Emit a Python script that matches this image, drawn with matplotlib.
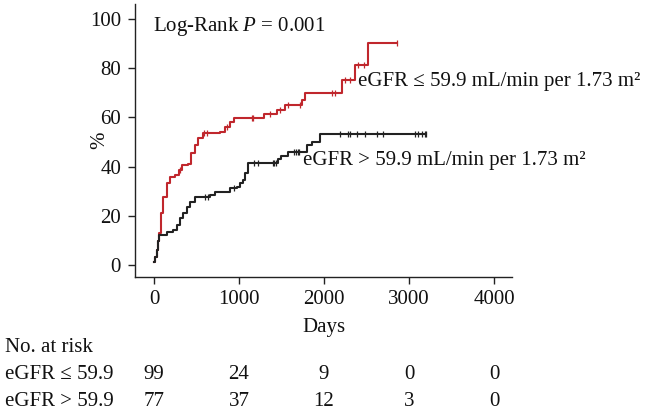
import numpy as np
import matplotlib
matplotlib.use("Agg")
import matplotlib.pyplot as plt

plt.rcParams['font.family'] = ['Liberation Serif', 'DejaVu Serif']
plt.rcParams['mathtext.fontset'] = 'custom'
plt.rcParams['mathtext.rm'] = 'Liberation Serif'
plt.rcParams['mathtext.it'] = 'Liberation Serif:italic'

# ---- data (cumulative incidence, %) ----
red_t = [0, 15, 30, 45, 60, 80, 110, 150, 190, 250, 290, 325, 400, 440, 480, 520, 580,
         780, 835, 895, 935, 1290, 1445, 1540, 1740, 1775, 2215, 2365, 2520]
red_v = [1.3, 3.5, 6, 10, 13, 21, 27.8, 33.2, 35.9, 36.6, 38.6, 40.6, 41.3, 45.4, 48.8, 51.5, 53.5,
         54.2, 56.2, 58.2, 59.6, 61.3, 63.1, 65.0, 67.1, 69.8, 75.2, 81.3, 90.3]
red_end = 2860
red_cens = [300, 590, 620, 860, 1150, 1170, 1365, 1480, 1580, 1718, 2090, 2130, 2250,
            2305, 2405, 2465, 2860]

blk_t = [0, 15, 30, 45, 55, 150, 227, 267, 306, 345, 384, 424, 482, 660, 718, 894, 973,
         1012, 1051, 1071, 1110, 1463, 1490, 1580, 1796, 1855, 1953]
blk_v = [1.3, 3.5, 6, 10, 12.2, 13.5, 14.2, 16.3, 19, 21, 23.7, 25.7, 27.8, 28.4, 29.8, 31.2, 31.8,
         33.2, 34.5, 37.3, 41.6, 43.0, 44.3, 46.0, 48.8, 50.1, 53.2]
blk_end = 3200
blk_cens = [600, 640, 940, 1180, 1220, 1396, 1416, 1435, 1651, 1671, 1690, 1710, 2188,
            2286, 2306, 2384, 2482, 2620, 2698, 3071, 3110, 3149, 3188, 3200]

x_ticks = [0, 1000, 2000, 3000, 4000]
y_ticks = [0, 20, 40, 60, 80, 100]
risk_labels = ["eGFR \u2264 59.9", "eGFR > 59.9"]
risk_red = [99, 24, 9, 0, 0]
risk_blk = [77, 37, 12, 3, 0]

RED = "#c0272d"
BLK = "#222222"
TXT = "#111111"
FS = 15

W, H = 663, 413
fig = plt.figure(figsize=(W / 100, H / 100), dpi=100)
ax = fig.add_axes([135 / W, 1 - 277 / H, (511.7 - 135) / W, (277 - 4) / H])


def step_at(ts, vs, x):
    i = np.searchsorted(ts, x, side='right') - 1
    return np.asarray(vs)[i]


for ts, vs, end, cens, c in [(red_t, red_v, red_end, red_cens, RED),
                             (blk_t, blk_v, blk_end, blk_cens, BLK)]:
    xs = list(ts) + [end]
    ys = list(vs) + [vs[-1]]
    ax.step(xs, ys, where='post', color=c, lw=1.5)
    cy = [step_at(ts, vs, x) for x in cens]
    ax.plot(cens, cy, ls='none', marker='|', ms=5, mew=0.9, color=c)

ax.set_xlim(-224, 4208)
ax.set_ylim(-4.8, 106.1)
ax.set_xticks(x_ticks)
ax.set_yticks(y_ticks)
ax.spines['top'].set_visible(False)
ax.spines['right'].set_visible(False)
for s in ['left', 'bottom']:
    ax.spines[s].set_linewidth(1.0)
    ax.spines[s].set_color('#222222')
ax.tick_params(direction='out', length=5, width=1.0, labelsize=FS, colors='#222222')
ax.tick_params(axis='x', pad=4)
ax.tick_params(axis='y', pad=5)
for lbl in ax.get_xticklabels() + ax.get_yticklabels():
    lbl.set_color(TXT)

ax.text(-8, 96.8, r"Log-Rank $P$ = 0.001", fontsize=FS, va='center', ha='left', color=TXT)
ax.text(2400, 74.5, "eGFR \u2264 59.9 mL/min per 1.73 m\u00b2", fontsize=FS, va='center', ha='left',
        color=TXT)
ax.text(1756, 42.7, "eGFR > 59.9 mL/min per 1.73 m\u00b2", fontsize=FS, va='center', ha='left',
        color=TXT)

fig.text(100 / W, 1 - 140 / H, "%", rotation=90, fontsize=FS, ha='center', va='center', color=TXT)
fig.text(324.3 / W, 1 - 327.3 / H, "Days", fontsize=FS, ha='center', va='center', color=TXT)

# risk table
trans = matplotlib.transforms.blended_transform_factory(ax.transData, fig.transFigure)
fig.text(5 / W, 1 - 347.3 / H, "No. at risk", fontsize=FS, ha='left', va='center', color=TXT)
for row_y, lab, vals in [(374.3, risk_labels[0], risk_red), (401.7, risk_labels[1], risk_blk)]:
    fig.text(5 / W, 1 - row_y / H, lab, fontsize=FS, ha='left', va='center', color=TXT)
    for xv, n in zip(x_ticks, vals):
        ax.text(xv, 1 - row_y / H, str(n), transform=trans, fontsize=FS, ha='center', va='center',
                color=TXT, clip_on=False)

fig.savefig("out.png", dpi=100)
